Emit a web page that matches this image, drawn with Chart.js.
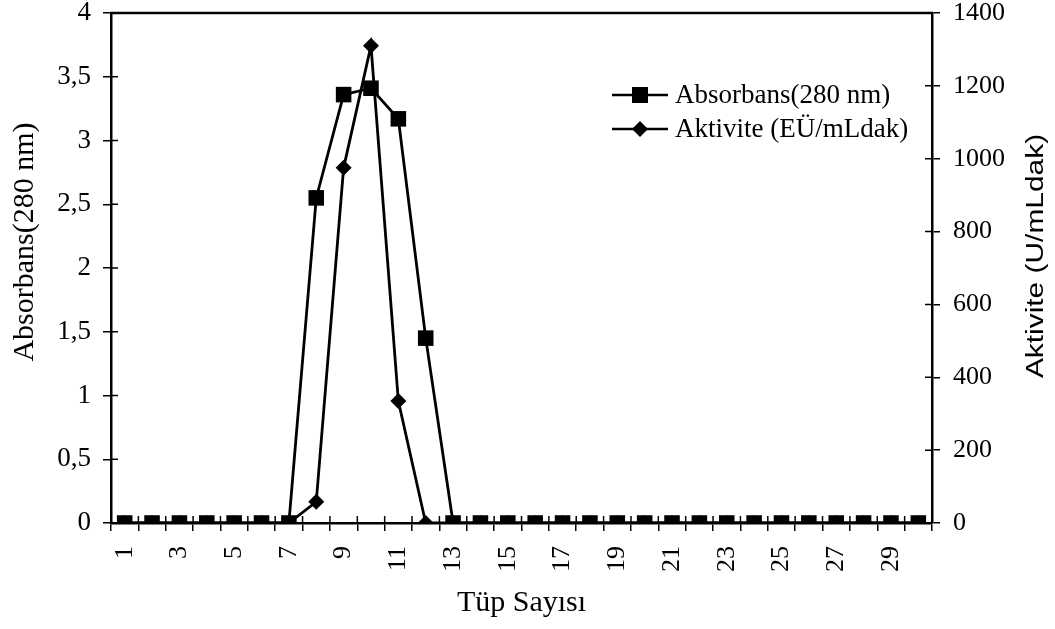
<!DOCTYPE html>
<html>
<head>
<meta charset="utf-8">
<script src="https://cdn.jsdelivr.net/npm/chart.js@4/dist/chart.umd.min.js"></script>
<style>
html,body{margin:0;padding:0;background:#fff;}
#wrap{width:1055px;height:629px;}
</style>
</head>
<body>
<div id="wrap"><canvas id="c" width="1055" height="629"></canvas></div>
<script>
const categories = ['1','2','3','4','5','6','7','8','9','10','11','12','13','14','15','16','17','18','19','20','21','22','23','24','25','26','27','28','29','30'];
const absorbans = [0,0,0,0,0,0,0,2.55,3.36,3.41,3.17,1.45,0,0,0,0,0,0,0,0,0,0,0,0,0,0,0,0,0,0];
const aktivite  = [0,0,0,0,0,0,0,58,975,1310,335,0,0,0,0,0,0,0,0,0,0,0,0,0,0,0,0,0,0,0];
const leftTickLabels  = ['0','0,5','1','1,5','2','2,5','3','3,5','4'];
const rightTickLabels = ['0','200','400','600','800','1000','1200','1400'];
const seriesNames = ['Absorbans(280 nm)','Aktivite (EÜ/mLdak)'];
const xTitle = 'Tüp Sayısı';
const leftTitle = 'Absorbans(280 nm)';
const rightTitle = 'Aktivite (U/mLdak)';

const SERIF = '"Liberation Serif","Times New Roman",serif';
const SANS = '"Liberation Sans",Arial,sans-serif';

function zeroPad(s) { s.paddingTop = 0; s.paddingBottom = 0; s.paddingLeft = 0; s.paddingRight = 0; }

const decor = {
  id: 'decor',
  beforeDatasetsDraw(chart) {
    const {ctx, chartArea: a, scales} = chart;
    ctx.save();
    ctx.strokeStyle = '#000';
    ctx.lineWidth = 2.5;
    ctx.beginPath(); ctx.moveTo(a.left - 1, a.top); ctx.lineTo(a.right + 1, a.top); ctx.stroke();
    ctx.lineWidth = 1.5;
    const x = scales.x;
    ctx.beginPath();
    for (let i = 0; i <= categories.length; i++) {
      const px = x.getPixelForValue(i - 0.5);
      ctx.moveTo(px, a.bottom); ctx.lineTo(px, a.bottom - 7);
    }
    scales.y.ticks.forEach(t => {
      const py = scales.y.getPixelForValue(t.value);
      ctx.moveTo(a.left, py); ctx.lineTo(a.left + 7, py);
    });
    scales.y1.ticks.forEach(t => {
      const py = scales.y1.getPixelForValue(t.value);
      ctx.moveTo(a.right, py); ctx.lineTo(a.right - 7, py);
    });
    ctx.stroke();
    ctx.restore();
  },
  afterDraw(chart) {
    const {ctx} = chart;
    ctx.save();
    ctx.fillStyle = '#000';
    ctx.strokeStyle = '#000';
    const rows = [95, 129];
    ctx.lineWidth = 2.5;
    rows.forEach((ry, i) => {
      ctx.beginPath(); ctx.moveTo(612, ry); ctx.lineTo(668, ry); ctx.stroke();
      ctx.beginPath();
      if (i === 0) {
        ctx.rect(640 - 8, ry - 8, 16, 16);
      } else {
        ctx.moveTo(640, ry - 8); ctx.lineTo(648, ry); ctx.lineTo(640, ry + 8); ctx.lineTo(632, ry); ctx.closePath();
      }
      ctx.fill();
      ctx.font = '27px ' + SERIF;
      ctx.textAlign = 'left';
      ctx.textBaseline = 'middle';
      ctx.fillText(seriesNames[i], 675, ry + 1);
    });
    ctx.save();
    ctx.translate(25, 242);
    ctx.rotate(-Math.PI / 2);
    ctx.font = '30px ' + SERIF;
    ctx.textAlign = 'center';
    ctx.textBaseline = 'middle';
    ctx.fillText(leftTitle, 0, 0);
    ctx.restore();
    ctx.save();
    ctx.translate(1037, 256);
    ctx.rotate(-Math.PI / 2);
    ctx.scale(1.3, 1);
    ctx.font = '23px ' + SANS;
    ctx.textAlign = 'center';
    ctx.textBaseline = 'middle';
    ctx.fillText(rightTitle, 0, 0);
    ctx.restore();
    ctx.restore();
  }
};

new Chart(document.getElementById('c'), {
  type: 'line',
  data: {
    labels: categories,
    datasets: [
      {
        label: seriesNames[0], data: absorbans, yAxisID: 'y',
        borderColor: '#000', backgroundColor: '#000', borderWidth: 2.8,
        pointStyle: 'rect', pointRadius: 11, pointBackgroundColor: '#000', pointBorderColor: '#000', pointBorderWidth: 0,
        tension: 0
      },
      {
        label: seriesNames[1], data: aktivite, yAxisID: 'y1',
        borderColor: '#000', backgroundColor: '#000', borderWidth: 2.8,
        pointStyle: 'rectRot', pointRadius: 8, pointBackgroundColor: '#000', pointBorderColor: '#000', pointBorderWidth: 0,
        tension: 0
      }
    ]
  },
  options: {
    responsive: false,
    animation: false,
    layout: {padding: {top: 13, left: 0, right: 0, bottom: 0}},
    plugins: {legend: {display: false}, tooltip: {enabled: false}},
    scales: {
      x: {
        type: 'category',
        offset: true,
        grid: {offset: true, drawOnChartArea: false, drawTicks: true, tickLength: 8, color: '#000', lineWidth: 1.5},
        border: {display: true, color: '#000', width: 2.5},
        ticks: {
          autoSkip: false, maxRotation: 90, minRotation: 90, padding: 15, color: '#000',
          font: {family: SERIF, size: 26},
          callback: (v, i) => (i % 2 === 0 ? categories[i] : '')
        },
        title: {display: true, text: xTitle, color: '#000', font: {family: SERIF, size: 30}, padding: {top: 0, bottom: 8}},
        afterFit: s => { s.height = 106; zeroPad(s); }
      },
      y: {
        position: 'left', min: 0, max: 4,
        grid: {drawOnChartArea: false, drawTicks: true, tickLength: 8, color: '#000', lineWidth: 1.5},
        border: {display: true, color: '#000', width: 2.5},
        ticks: {
          stepSize: 0.5, padding: 12, color: '#000', font: {family: SERIF, size: 27},
          callback: (v, i) => leftTickLabels[i]
        },
        afterFit: s => { s.width = 111; zeroPad(s); }
      },
      y1: {
        position: 'right', min: 0, max: 1400,
        grid: {drawOnChartArea: false, drawTicks: true, tickLength: 8, color: '#000', lineWidth: 1.5},
        border: {display: true, color: '#000', width: 2.5},
        ticks: {
          stepSize: 200, padding: 13, color: '#000', font: {family: SERIF, size: 26},
          callback: (v, i) => rightTickLabels[i]
        },
        afterFit: s => { s.width = 123; zeroPad(s); }
      }
    }
  },
  plugins: [decor]
});
</script>
</body>
</html>
